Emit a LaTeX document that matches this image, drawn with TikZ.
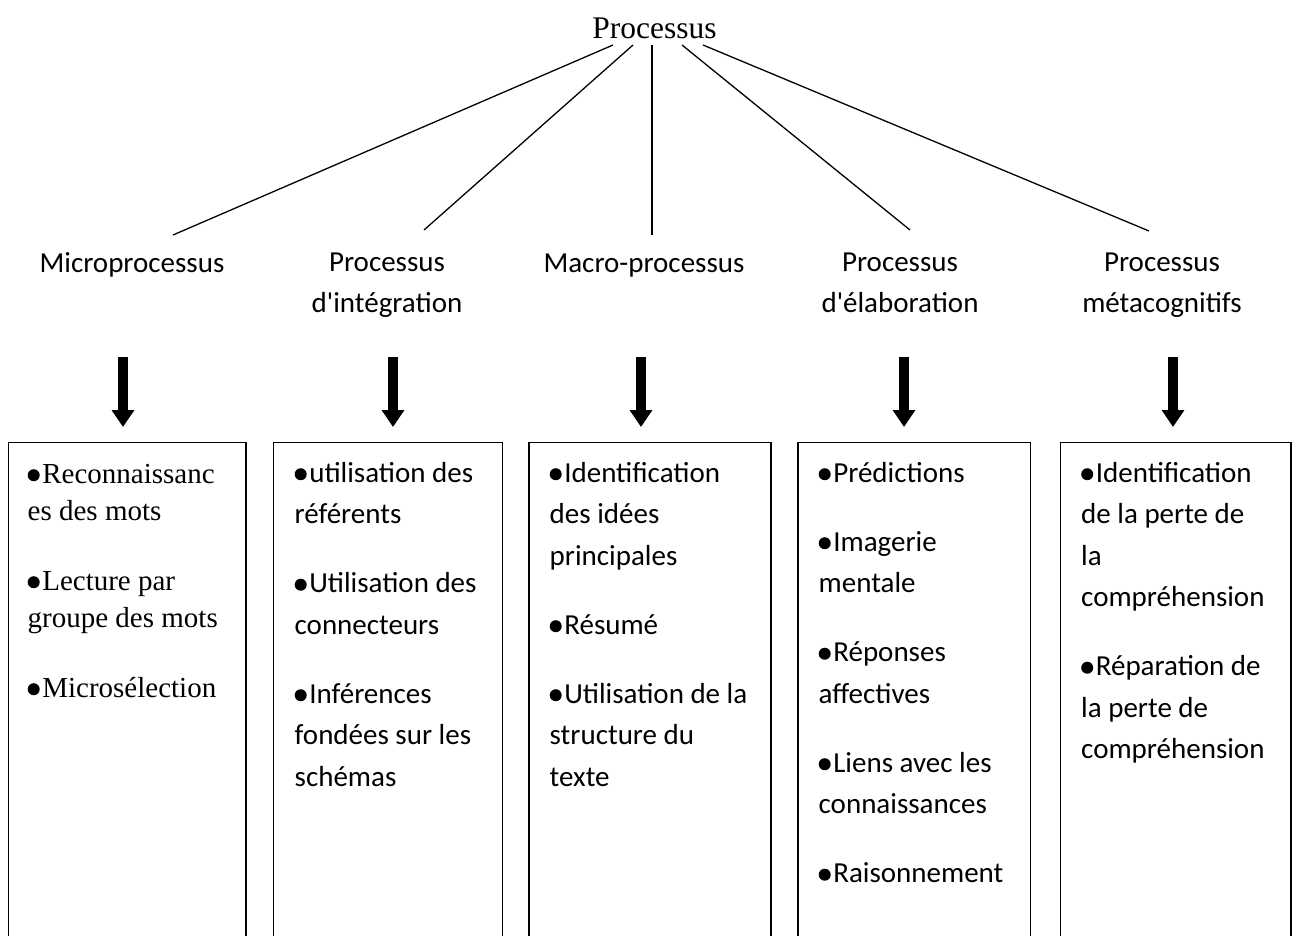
\documentclass[tikz,border=0pt]{standalone}
\usepackage{fontspec}
\setmainfont{Liberation Serif}
\newfontfamily\calib[Ligatures=TeXOff]{Carlito}
\usetikzlibrary{arrows.meta}
\newcommand\blt{\raisebox{2.0pt}{\tikz\fill (0,0) circle[radius=6pt];}\kern2.6pt}
\begin{document}
\begin{tikzpicture}[x=1pt,y=-1pt,
  toptxt/.style={font=\fontsize{31.5}{36}\selectfont, inner sep=0pt, anchor=base},
  lbl/.style={font=\calib\fontsize{29}{41}\selectfont, inner sep=0pt, align=center},
  boxframe/.style={draw, line width=1.6pt, minimum height=530pt, inner sep=0pt, anchor=north west},
  boxtxt/.style={font=\calib\fontsize{29}{41.5}\selectfont, inner sep=0pt, align=left, anchor=north west},
  boxtxtserif/.style={font=\fontsize{29}{37}\selectfont, inner sep=0pt, align=left, anchor=north west},
  branch/.style={line width=1.3pt},
  bigarrow/.style={line width=9.3pt, -{Triangle[length=17pt,width=21.7pt]}}
]
\useasboundingbox (0,0) rectangle (1292,935);
\clip (0,0) rectangle (1292,935);

% top
\node[toptxt] (top) at (654.5,38) {Processus};

% second level labels
\node[lbl, anchor=base] (m1) at (132,272) {Microprocessus};
\node[lbl, anchor=north] (m2) at (387,241) {\rule{0pt}{30pt}Processus\\d'intégration};
\node[lbl, anchor=base] (m3) at (644,272) {Macro-processus};
\node[lbl, anchor=north] (m4) at (900,241) {\rule{0pt}{30pt}Processus\\d'élaboration};
\node[lbl, anchor=north] (m5) at (1162,241) {\rule{0pt}{30pt}Processus\\métacognitifs};

% branch lines
\coordinate (s1) at (613,45);  \coordinate (e1) at (173,235);
\coordinate (s2) at (633,45);  \coordinate (e2) at (424,230);
\coordinate (s3) at (652,45);  \coordinate (e3) at (652,235);
\coordinate (s4) at (682,45);  \coordinate (e4) at (910,230);
\coordinate (s5) at (703,45);  \coordinate (e5) at (1149,231);
\foreach \i in {1,...,5} { \draw[branch] (s\i) -- (e\i); }

% boxes
\node[boxframe, minimum width=237.5pt] (b1) at (7.5,441.7) {};
\node[boxframe, minimum width=229pt] (b2) at (272.7,441.7) {};
\node[boxframe, minimum width=242pt] (b3) at (528,441.7) {};
\node[boxframe, minimum width=232.5pt] (b4) at (797,441.7) {};
\node[boxframe, minimum width=230.5pt] (b5) at (1059.5,441.7) {};

% arrows
\coordinate (a1s) at (123,357);  \coordinate (a1e) at (123,427);
\coordinate (a2s) at (393,357);  \coordinate (a2e) at (393,427);
\coordinate (a3s) at (641,357);  \coordinate (a3e) at (641,427);
\coordinate (a4s) at (904,357);  \coordinate (a4e) at (904,427);
\coordinate (a5s) at (1173,357); \coordinate (a5e) at (1173,427);
\foreach \i in {1,...,5} { \draw[bigarrow] (a\i s) -- (a\i e); }

% box texts
\node[boxtxtserif] (t1) at (27.5,453) {\rule{0pt}{30pt}\blt Reconnaissanc\\es des mots\\[33pt]\blt Lecture par\\groupe des mots\\[33pt]\blt Microsélection};
\node[boxtxt] (t2) at (294.5,452) {\rule{0pt}{30pt}\blt utilisation des\\référents\\[27.5pt]\blt Utilisation des\\connecteurs\\[27.5pt]\blt Inférences\\fondées sur les\\schémas};
\node[boxtxt] (t3) at (549.5,452) {\rule{0pt}{30pt}\blt Identification\\des idées\\principales\\[27.5pt]\blt Résumé\\[27.5pt]\blt Utilisation de la\\structure du\\texte};
\node[boxtxt] (t4) at (818.5,452) {\rule{0pt}{30pt}\blt Prédictions\\[27.5pt]\blt Imagerie\\mentale\\[27.5pt]\blt Réponses\\affectives\\[27.5pt]\blt Liens avec les\\connaissances\\[27.5pt]\blt Raisonnement};
\node[boxtxt] (t5) at (1081,452) {\rule{0pt}{30pt}\blt Identification\\de la perte de\\la\\compréhension\\[27.5pt]\blt Réparation de\\la perte de\\compréhension};
\end{tikzpicture}
\end{document}
